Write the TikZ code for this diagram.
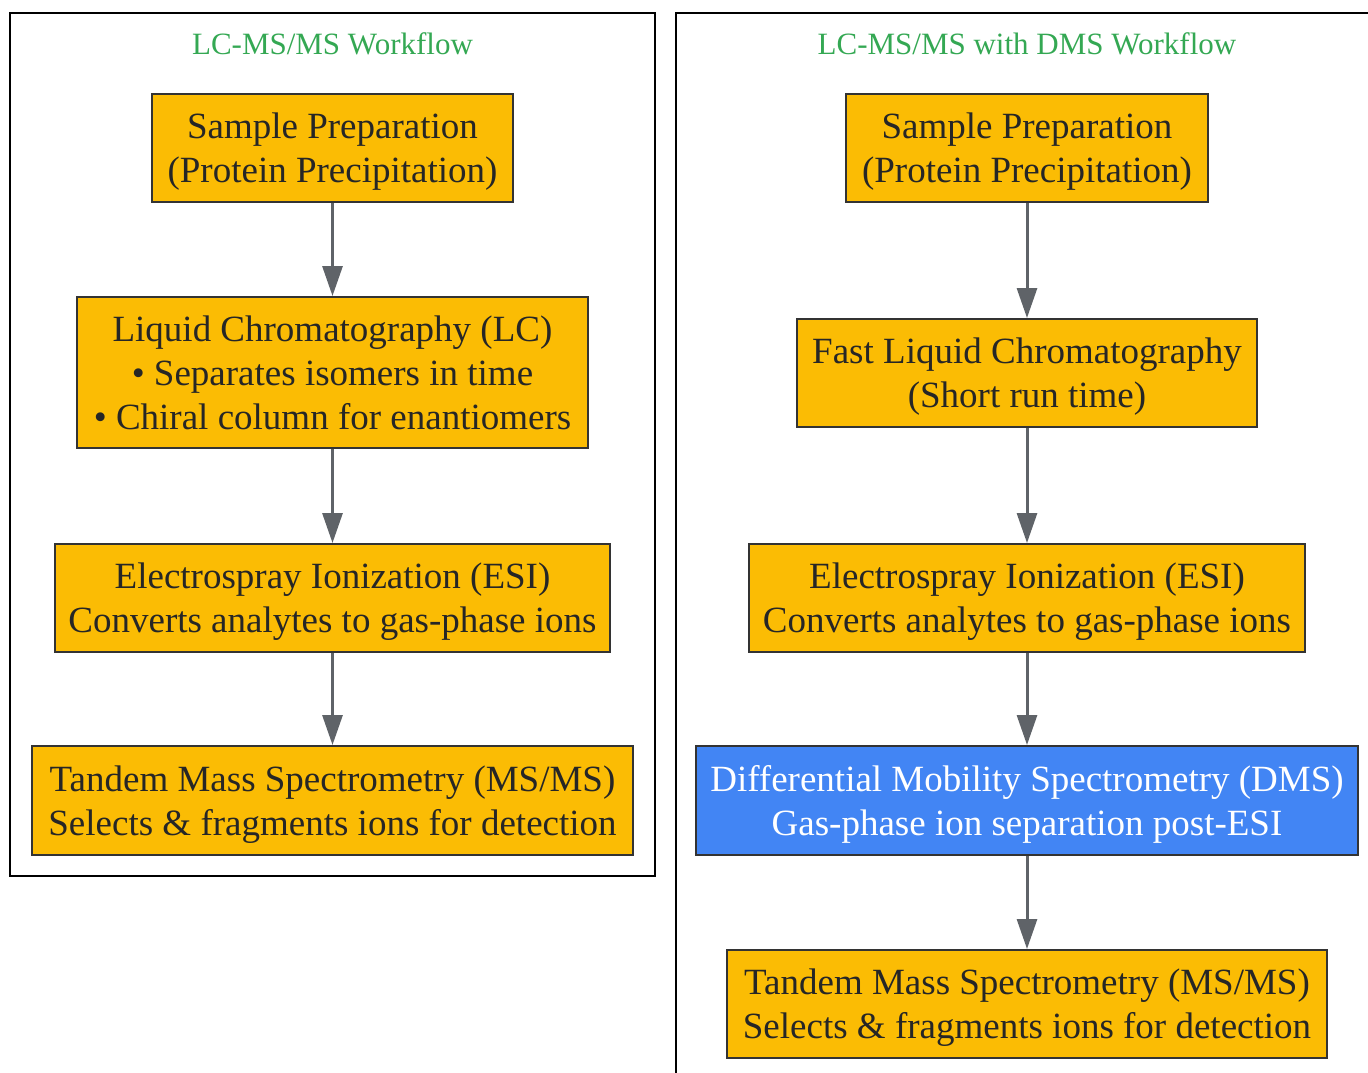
\documentclass[tikz,border=0pt]{standalone}
\usepackage{fontspec}
\setmainfont{Liberation Serif}
\usetikzlibrary{arrows.meta, positioning}
\usepackage{xcolor}
\definecolor{gyellow}{HTML}{FBBC04}
\definecolor{gblue}{HTML}{4285F4}
\definecolor{ggreen}{HTML}{34A853}
\definecolor{arrgray}{HTML}{5F6368}
\definecolor{boxline}{HTML}{333333}
\newcommand\boxfont{\fontsize{37}{44}\selectfont}
\newcommand\titlefont{\fontsize{31}{36}\selectfont}

\begin{document}
\begin{tikzpicture}[x=1pt,y=-1pt,
    box/.style={draw=boxline,fill=gyellow,line width=2pt,inner sep=0pt,align=center,font=\boxfont,text=black!85,
      text depth=-2pt},
    dmsbox/.style={box,fill=gblue,text=white},
    frame/.style={draw=black,line width=2.5pt},
    ttl/.style={font=\titlefont,text=ggreen},
    arr/.style={-{Triangle[width=20pt,length=30pt]},draw=arrgray,fill=arrgray,line width=3pt}]
    \useasboundingbox (0,0) rectangle (1368,1073);
    \clip (0,0) rectangle (1368,1073);
    % frames
    \draw[frame] (10,13) rectangle (655,876);
    \draw[frame] (676,13) rectangle (1400,1110);
    \node[ttl] (lt) at (332.5,44) {LC-MS/MS Workflow};
    \node[ttl] (rt) at (1027,44) {LC-MS/MS with DMS Workflow};
    % left workflow
    \node[box,minimum width=361,minimum height=108] (l1) at (332.5,148)
      {Sample Preparation\\(Protein Precipitation)};
    \node[box,minimum width=511,minimum height=151] (l2) at (332.5,372.5)
      {Liquid Chromatography (LC)\\• Separates isomers in time\\• Chiral column for enantiomers};
    \node[box,minimum width=555,minimum height=108] (l3) at (332.5,598)
      {Electrospray Ionization (ESI)\\Converts analytes to gas-phase ions};
    \node[box,minimum width=601,minimum height=109] (l4) at (332.5,800.5)
      {Tandem Mass Spectrometry (MS/MS)\\Selects \& fragments ions for detection};
    \draw[arr](l1.south)--(l2.north);\draw[arr](l2.south)--(l3.north);\draw[arr](l3.south)--(l4.north);
    % right workflow
    \node[box,minimum width=362,minimum height=108] (r1) at (1027,148)
      {Sample Preparation\\(Protein Precipitation)};
    \node[box,minimum width=460,minimum height=108] (r2) at (1027,373)
      {Fast Liquid Chromatography\\(Short run time)};
    \node[box,minimum width=556,minimum height=108] (r3) at (1027,598)
      {Electrospray Ionization (ESI)\\Converts analytes to gas-phase ions};
    \node[dmsbox,minimum width=662,minimum height=109] (r4) at (1027,800.5)
      {Differential Mobility Spectrometry (DMS)\\Gas-phase ion separation post-ESI};
    \node[box,minimum width=600,minimum height=108] (r5) at (1027,1004)
      {Tandem Mass Spectrometry (MS/MS)\\Selects \& fragments ions for detection};
    \draw[arr](r1.south)--(r2.north);\draw[arr](r2.south)--(r3.north);\draw[arr](r3.south)--(r4.north);\draw[arr](r4.south)--(r5.north);
\end{tikzpicture}
\end{document}
